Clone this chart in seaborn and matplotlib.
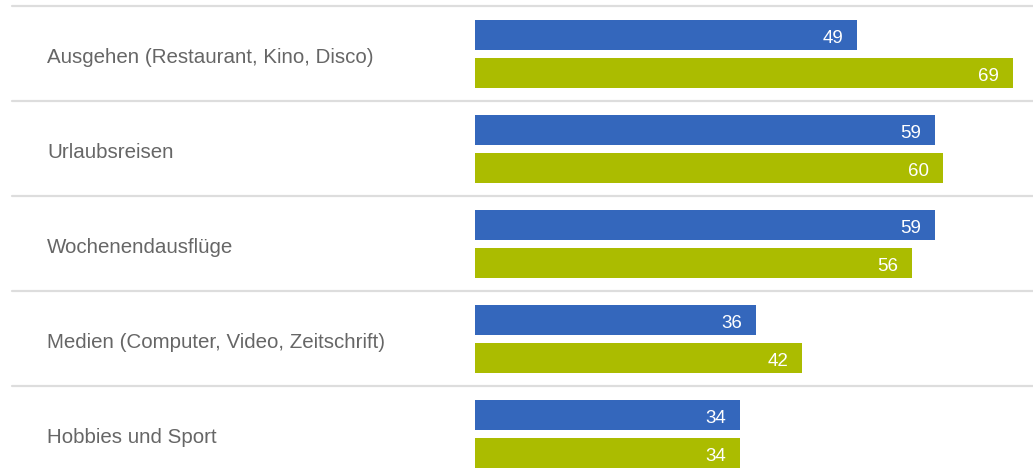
import matplotlib
matplotlib.use("Agg")
import matplotlib.pyplot as plt
import matplotlib.transforms as mtransforms
import seaborn as sns
import pandas as pd

categories = ["Ausgehen (Restaurant, Kino, Disco)", "Urlaubsreisen", "Wochenendausflüge",
              "Medien (Computer, Video, Zeitschrift)", "Hobbies und Sport"]
series_names = ["Serie A", "Serie B"]
values_a = [49, 59, 59, 36, 34]
values_b = [69, 60, 56, 42, 34]
colors = ["#3467BC", "#ABBC00"]

df = pd.DataFrame({
    "Kategorie": categories * 2,
    "Serie": [series_names[0]] * len(categories) + [series_names[1]] * len(categories),
    "Wert": values_a + values_b,
})

sns.set_theme(style="white")
plt.rcParams["font.family"] = ["Liberation Sans", "DejaVu Sans"]

fig = plt.figure(figsize=(10.33, 4.72), dpi=100)
ax = fig.add_axes([475 / 1033, 0, 1 - 475 / 1033, 1])

sns.barplot(data=df, y="Kategorie", x="Wert", hue="Serie", order=categories,
            hue_order=series_names, palette=colors, orient="h", width=0.8, gap=0.21,
            saturation=1, ax=ax, legend=False, linewidth=0)

ax.set_xlim(0, 558 / (538 / 69))
ax.set_ylim(4.40, -0.568)
ax.set_axis_off()

for cont in ax.containers:
    texts = ax.bar_label(cont, labels=[f"{v:g}" for v in cont.datavalues], label_type="edge",
                         padding=-9, color="white", fontsize=13.5)
    for t in texts:
        t.set_ha("right")
        t.set_va("center_baseline")
        t.xyann = (-10, -1.0)

trans = mtransforms.blended_transform_factory(fig.transFigure, ax.transData)
for i in range(len(categories)):
    ax.plot([12 / 1033, 1.0], [i - 0.5, i - 0.5], transform=trans, color="#dddddd",
            lw=1.6, clip_on=False, zorder=0)
    ax.text(47 / 1033, i + 0.02, categories[i], transform=trans, ha="left", va="center_baseline",
            color="#666666", fontsize=14.8)

fig.savefig("out.png", dpi=100)
